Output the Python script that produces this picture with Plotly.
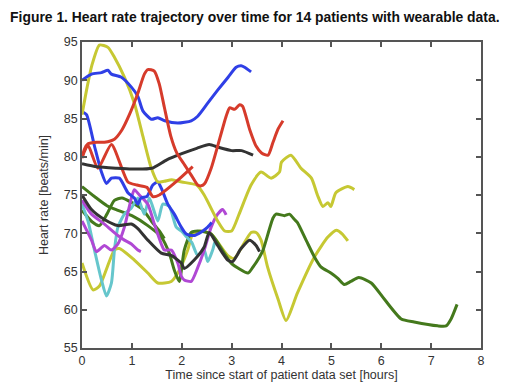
import plotly.graph_objects as go

# ---- data (hours, beats/min) ----
blue_a_t = [0, 0.19, 0.39, 0.52, 0.59, 0.79, 0.99, 1.12, 1.22, 1.39, 1.52, 1.66, 1.92, 2.19, 2.32, 2.52, 2.72, 2.93, 3.09, 3.19, 3.26, 3.39]
blue_a_hr = [90.0, 90.8, 91.0, 91.3, 90.8, 90.4, 89.1, 87.9, 86.0, 84.9, 85.1, 84.7, 84.4, 84.7, 85.3, 87.0, 88.7, 90.4, 91.7, 91.9, 91.7, 91.1]

blue_b_t = [0, 0.09, 0.25, 0.39, 0.49, 0.59, 0.75, 0.92, 1.05, 1.12, 1.18, 1.3, 1.42, 1.52, 1.59, 1.72, 1.85, 1.99, 2.09, 2.25, 2.4, 2.52, 2.6]
blue_b_hr = [85.9, 85.5, 81.4, 78.0, 76.5, 77.2, 77.2, 75.3, 74.6, 73.8, 74.6, 74.8, 76.3, 76.7, 75.9, 73.8, 72.5, 70.8, 69.9, 69.7, 70.2, 70.8, 71.4]

red_a_t = [0, 0.05, 0.12, 0.3, 0.45, 0.65, 0.8, 0.95, 1.12, 1.25, 1.32, 1.45, 1.55, 1.65, 1.78, 1.9, 2.06, 2.2, 2.32, 2.39, 2.46, 2.59, 2.72, 2.89, 2.96, 3.06, 3.16, 3.22, 3.36, 3.49, 3.6, 3.73, 3.83, 3.93, 4.03]
red_a_hr = [79.8, 81.0, 81.7, 81.9, 81.9, 82.3, 83.5, 85.5, 88.3, 90.8, 91.4, 91.2, 89.5, 86.5, 82.7, 80.5, 78.9, 77.5, 76.3, 76.2, 76.5, 78.5, 81.4, 85.3, 86.4, 86.2, 86.8, 86.6, 83.6, 81.4, 80.5, 80.2, 81.9, 83.6, 84.7]

red_b_t = [0, 0.12, 0.32, 0.59, 0.92, 1.1, 1.3, 1.42, 1.55, 1.9, 2.22]
red_b_hr = [79.9, 81.5, 78.5, 81.6, 76.7, 76.3, 76.0, 74.8, 75.0, 76.8, 78.7]

black_a_t = [0, 0.3, 0.7, 1.0, 1.4, 1.7, 2.0, 2.3, 2.55, 2.75, 3.0, 3.2, 3.43]
black_a_hr = [79.1, 78.7, 78.5, 78.4, 78.5, 79.6, 80.4, 81.1, 81.6, 81.2, 80.8, 80.8, 80.2]

black_b_t = [0, 0.19, 0.45, 0.72, 0.99, 1.12, 1.32, 1.59, 1.79, 1.99, 2.05, 2.25, 2.45, 2.55, 2.72, 2.92, 3.02, 3.19, 3.36, 3.49, 3.56]
black_b_hr = [75.0, 73.1, 71.8, 71.0, 71.2, 70.6, 69.1, 67.4, 67.1, 66.1, 65.4, 66.5, 68.2, 70.1, 68.4, 66.5, 66.3, 68.0, 69.1, 68.4, 67.6]

yellow_a_t = [0, 0.1, 0.2, 0.35, 0.52, 0.65, 0.85, 1.05, 1.22, 1.39, 1.52, 1.65, 1.8, 2.0, 2.3, 2.45, 2.72, 2.86, 3.0, 3.15, 3.39, 3.59, 3.79, 3.96, 4.0, 4.19, 4.39, 4.6, 4.72, 4.83, 4.93, 4.99, 5.09, 5.33, 5.46]
yellow_a_hr = [85.5, 89.0, 92.0, 94.6, 94.3, 93.0, 90.4, 87.0, 82.7, 78.5, 76.7, 76.8, 77.0, 76.7, 76.3, 75.0, 71.6, 70.3, 70.3, 72.5, 76.3, 78.0, 77.2, 78.0, 79.3, 80.2, 78.5, 77.2, 75.0, 73.5, 74.0, 73.5, 75.3, 76.1, 75.7]

yellow_b_t = [0, 0.22, 0.35, 0.65, 0.75, 1.05, 1.32, 1.52, 1.79, 1.92, 2.12, 2.22, 2.39, 2.59, 2.92, 3.05, 3.39, 3.49, 3.59, 3.72, 3.93, 4.09, 4.32, 4.66, 4.93, 5.1, 5.22, 5.33]
yellow_b_hr = [66.1, 62.6, 63.1, 67.8, 68.0, 66.5, 64.8, 63.5, 63.7, 64.8, 67.8, 69.9, 70.3, 69.9, 67.1, 66.7, 70.1, 70.1, 69.1, 65.6, 61.4, 58.6, 62.2, 66.9, 69.5, 70.4, 69.9, 69.0]

green_a_t = [0, 0.25, 0.5, 0.72, 1.0, 1.32, 1.59, 1.75, 1.85, 1.95, 2.05, 2.19, 2.32, 2.59, 2.99, 3.33, 3.43, 3.56, 3.63, 3.83, 3.89, 4.06, 4.16, 4.26, 4.32, 4.5, 4.66, 4.79, 4.99, 5.13, 5.26, 5.39, 5.55, 5.8, 6.06, 6.4, 6.66, 7.13, 7.3, 7.4, 7.52]
green_a_hr = [76.1, 74.8, 73.6, 73.0, 72.3, 71.0, 69.5, 67.4, 65.2, 63.7, 67.8, 70.1, 70.3, 69.9, 66.1, 64.8, 65.6, 66.9, 67.8, 72.0, 72.5, 72.3, 72.5, 71.8, 71.4, 69.0, 66.9, 65.6, 64.8, 64.1, 63.3, 63.7, 64.2, 63.5, 61.4, 58.8, 58.4, 57.9, 57.9, 58.8, 60.7]

green_b_t = [0, 0.2, 0.35, 0.5, 0.65, 0.8, 1.0, 1.22, 1.4, 1.55, 1.65]
green_b_hr = [73.0, 71.5, 71.0, 72.5, 74.3, 74.6, 74.0, 73.1, 71.5, 70.3, 69.3]

cyan_t = [0, 0.12, 0.25, 0.39, 0.49, 0.59, 0.65, 0.72, 0.85, 0.99, 1.12, 1.25, 1.35, 1.52, 1.62, 1.75, 1.89, 1.99, 2.1, 2.2, 2.32, 2.45, 2.52, 2.62, 2.66]
cyan_hr = [73.8, 71.6, 67.8, 63.9, 61.8, 63.5, 67.8, 70.8, 72.5, 73.3, 74.6, 72.5, 74.6, 71.6, 73.8, 73.5, 70.8, 70.3, 69.5, 68.8, 67.1, 67.8, 66.3, 67.8, 68.8]

purple_a_t = [0, 0.19, 0.45, 0.72, 0.85, 0.99, 1.12, 1.18]
purple_a_hr = [74.3, 72.5, 71.2, 69.7, 69.1, 68.6, 67.8, 67.6]

purple_b_t = [0, 0.19, 0.29, 0.45, 0.59, 0.72, 0.85, 0.99, 1.05, 1.15, 1.32, 1.45, 1.59, 1.65, 1.79, 1.92, 1.99, 2.05, 2.19, 2.32, 2.45, 2.59, 2.72, 2.82, 2.89]
purple_b_hr = [71.6, 69.1, 67.6, 68.4, 67.8, 68.6, 70.8, 74.6, 75.7, 75.0, 73.8, 71.2, 68.6, 67.8, 67.8, 66.1, 64.4, 63.9, 63.7, 65.5, 67.8, 70.8, 72.5, 73.1, 72.4]

x_ticks = [0, 1, 2, 3, 4, 5, 6, 7, 8]
y_ticks = [55, 60, 65, 70, 75, 80, 85, 90, 95]

BLUE = "#2f3fe6"
RED = "#d63b2b"
BLACK = "#333333"
YELLOW = "#c6c833"
GREEN = "#44791c"
CYAN = "#66c6cc"
PURPLE = "#b048d4"

series = [
    (yellow_b_t, yellow_b_hr, YELLOW),
    (green_a_t, green_a_hr, GREEN),
    (green_b_t, green_b_hr, GREEN),
    (cyan_t, cyan_hr, CYAN),
    (purple_a_t, purple_a_hr, PURPLE),
    (purple_b_t, purple_b_hr, PURPLE),
    (black_b_t, black_b_hr, BLACK),
    (blue_b_t, blue_b_hr, BLUE),
    (yellow_a_t, yellow_a_hr, YELLOW),
    (red_b_t, red_b_hr, RED),
    (black_a_t, black_a_hr, BLACK),
    (blue_a_t, blue_a_hr, BLUE),
    (red_a_t, red_a_hr, RED),
]

fig = go.Figure()
for t, hr, c in series:
    fig.add_trace(go.Scatter(x=t, y=hr, mode="lines",
                             line=dict(color=c, width=3, shape="spline", smoothing=0.6),
                             showlegend=False, hoverinfo="skip"))

axis_common = dict(showline=True, linecolor="#555555", linewidth=1.5, mirror="ticks",
                   ticks="inside", ticklen=5, tickwidth=1.5, tickcolor="#555555",
                   showgrid=False, zeroline=False,
                   tickfont=dict(family="Liberation Sans, Arial", size=12.5, color="#333333"))

fig.update_layout(
    width=520, height=382,
    margin=dict(l=74, r=47, t=34, b=35),
    paper_bgcolor="white", plot_bgcolor="white",
    title=dict(text="<b>Figure 1. Heart rate trajectory over time for 14 patients with wearable data.</b>",
               font=dict(family="Liberation Sans, Arial", size=13.9, color="#111111"),
               x=0.004, xanchor="left", y=0.975, yanchor="middle"),
    xaxis=dict(range=[0, 8], tickvals=x_ticks, **axis_common,
               title=dict(text="Time since start of patient data set [hours]",
                          font=dict(family="Liberation Sans, Arial", size=12.5, color="#333333"),
                          standoff=1)),
    yaxis=dict(range=[55, 95], tickvals=y_ticks, **axis_common,
               title=dict(text="Heart rate [beats/min]",
                          font=dict(family="Liberation Sans, Arial", size=12.5, color="#333333"),
                          standoff=12)),
)

fig.write_html("out.html")
